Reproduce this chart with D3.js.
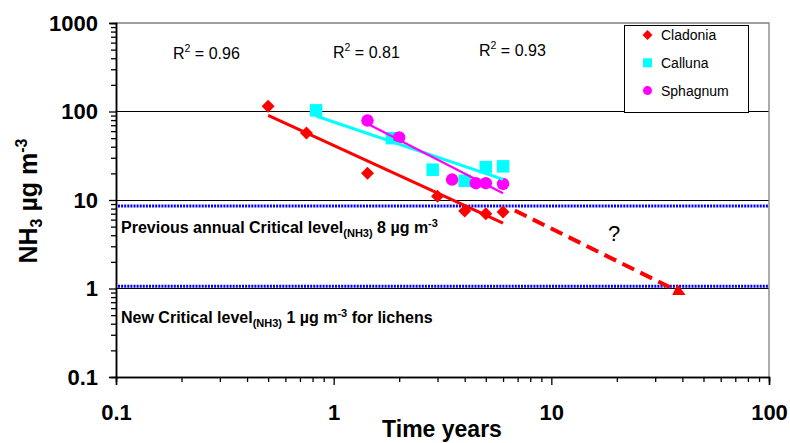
<!DOCTYPE html>
<html><head><meta charset="utf-8">
<script src="https://cdn.jsdelivr.net/npm/d3@7"></script>
<style>
html,body{margin:0;padding:0;background:#fff;}
svg{display:block;font-family:Arial,"Liberation Sans",sans-serif;}
</style></head>
<body>
<svg id="chart" width="790" height="443"></svg>
<script>
// ---- data ----
const seriesNames = ["Cladonia", "Calluna", "Sphagnum"];
const cladoniaX = [0.5, 0.75, 1.43, 3, 4, 5, 6];
const cladoniaY = [115, 57, 20, 11, 7.5, 7, 7.3];
const callunaX = [0.83, 1.85, 2.85, 4, 5, 6];
const callunaY = [103, 50, 22, 16.5, 23.5, 24];
const sphagnumX = [1.43, 2, 3.5, 4.5, 5, 6];
const sphagnumY = [79, 51, 17, 15.5, 15.5, 15.2];
const r2Labels = ["0.96", "0.81", "0.93"];
const extX = [6.8, 40];      // extrapolated Cladonia trend (dashed arrow)
const extY = [7.6, 0.88];
const criticalLevels = [8.55, 1.06];
const xTicks = [0.1, 1, 10, 100];
const yTicks = [0.1, 1, 10, 100, 1000];

// ---- layout ----
const L = 116, R = 769, T = 23, B = 377;
const svg = d3.select("#chart");
const x = d3.scaleLog().domain([0.1, 100]).range([L, R]);
const y = d3.scaleLog().domain([0.1, 1000]).range([B, T]);
const colors = ["#FF0000", "#00FFFF", "#FF00FF"];
const series = [
  {name: seriesNames[0], xs: cladoniaX, ys: cladoniaY, color: colors[0], shape: "diamond", lw: 3},
  {name: seriesNames[1], xs: callunaX, ys: callunaY, color: colors[1], shape: "square", lw: 3},
  {name: seriesNames[2], xs: sphagnumX, ys: sphagnumY, color: colors[2], shape: "circle", lw: 2.2}
];

// minor tick values
function minors(lo, hi) {
  const out = [];
  for (let d = lo; d < hi; d *= 10) for (let k = 2; k <= 9; k++) out.push(d * k);
  return out;
}

// gridlines
svg.append("g").selectAll("line").data([1, 10, 100]).join("line")
  .attr("x1", L).attr("x2", R).attr("y1", d => y(d)).attr("y2", d => y(d))
  .attr("stroke", "#000").attr("stroke-width", 1).attr("shape-rendering", "crispEdges");
// plot border top/right grey
svg.append("path").attr("d", `M${L},${T}H${R}V${B}`).attr("fill", "none")
  .attr("stroke", "#808080").attr("stroke-width", 1.3);

// critical level dotted lines
svg.append("g").selectAll("line").data(criticalLevels).join("line")
  .attr("x1", L + 2).attr("x2", R).attr("y1", d => y(d)).attr("y2", d => y(d))
  .attr("stroke", "#0000FF").attr("stroke-width", 3).attr("stroke-dasharray", "2,1.1");

// axes
const fmt = d => d3.format("")(d);
const xMinor = svg.append("g").attr("transform", `translate(0,${B})`)
  .call(d3.axisBottom(x).tickValues(minors(0.1, 100)).tickSize(5).tickFormat(""));
const xMajor = svg.append("g").attr("transform", `translate(0,${B})`)
  .call(d3.axisBottom(x).tickValues(xTicks).tickSize(8).tickPadding(19).tickFormat(fmt));
const yMinor = svg.append("g").attr("transform", `translate(${L},0)`)
  .call(d3.axisLeft(y).tickValues(minors(0.1, 1000)).tickSize(5).tickFormat(""));
const yMajor = svg.append("g").attr("transform", `translate(${L},0)`)
  .call(d3.axisLeft(y).tickValues(yTicks).tickSize(7).tickPadding(11).tickFormat(fmt));
[xMinor, xMajor, yMinor, yMajor].forEach(g => {
  g.selectAll("path.domain").attr("stroke", "#000").attr("stroke-width", 1.5);
  g.selectAll(".tick line").attr("stroke", "#000").attr("stroke-width", 1.3);
  g.selectAll("text").attr("font-size", 22).attr("font-weight", "bold")
    .attr("fill", "#000").attr("font-family", "Arial, 'Liberation Sans', sans-serif");
});
xMajor.selectAll("text").attr("dy", "0.71em");

// markers
function markerPath(shape, size) {
  if (shape === "diamond") {
    const h = size / 2;
    return `M0,${-h}L${h},0L0,${h}L${-h},0Z`;
  }
  if (shape === "square") {
    const h = size / 2;
    return `M${-h},${-h}H${h}V${h}H${-h}Z`;
  }
  const r = size / 2;
  return `M${r},0A${r},${r} 0 1,1 ${-r},0A${r},${r} 0 1,1 ${r},0Z`;
}
series.forEach(s => {
  svg.append("g").selectAll("path").data(s.xs.map((v, i) => [v, s.ys[i]])).join("path")
    .attr("transform", d => `translate(${x(d[0])},${y(d[1])})`)
    .attr("d", markerPath(s.shape, s.shape === "diamond" ? 13 : 12.5))
    .attr("fill", s.color);
});

// power trendlines (least squares in log-log space)
series.forEach(s => {
  const lx = s.xs.map(Math.log10), ly = s.ys.map(Math.log10);
  const mx = d3.mean(lx), my = d3.mean(ly);
  const b = d3.sum(lx, (v, i) => (v - mx) * (ly[i] - my)) / d3.sum(lx, v => (v - mx) ** 2);
  const a = my - b * mx;
  const x0 = d3.min(s.xs), x1 = d3.max(s.xs);
  const pts = [x0, x1].map(v => [v, Math.pow(10, a + b * Math.log10(v))]);
  svg.append("path").datum(pts)
    .attr("d", d3.line().x(d => x(d[0])).y(d => y(d[1])))
    .attr("fill", "none").attr("stroke", s.color).attr("stroke-width", s.lw);
});

// dashed extrapolation with arrow head
const defs = svg.append("defs");
defs.append("marker").attr("id", "arrow").attr("viewBox", "0 0 10 10")
  .attr("refX", 7).attr("refY", 5).attr("markerWidth", 3.2).attr("markerHeight", 3)
  .attr("orient", "auto").attr("markerUnits", "strokeWidth")
  .append("path").attr("d", "M0,0L10,5L0,10Z").attr("fill", colors[0]);
svg.append("path").datum(extX.map((v, i) => [v, extY[i]]))
  .attr("d", d3.line().x(d => x(d[0])).y(d => y(d[1])))
  .attr("fill", "none").attr("stroke", colors[0]).attr("stroke-width", 4)
  .attr("stroke-dasharray", "13,7").attr("marker-end", "url(#arrow)");

// question mark
svg.append("text").attr("x", 614).attr("y", 241).attr("text-anchor", "middle")
  .attr("font-size", 22).text("?");

// R² labels
const r2Pos = [[173, 59], [333, 58], [479, 56]];
r2Labels.forEach((t, i) => {
  const tx = svg.append("text").attr("x", r2Pos[i][0]).attr("y", r2Pos[i][1]).attr("font-size", 16);
  tx.append("tspan").text("R");
  tx.append("tspan").attr("font-size", 10.5).attr("dy", -7).text("2");
  tx.append("tspan").attr("dy", 7).text(" = " + t);
});

// critical level annotations
function critText(xp, yp, parts) {
  const t = svg.append("text").attr("x", xp).attr("y", yp).attr("font-size", 16)
    .attr("font-weight", "bold");
  let cur = 0;
  parts.forEach(p => {
    const shift = p.sub ? 4 : p.sup ? -6 : 0;
    t.append("tspan").attr("dy", shift - cur).attr("font-size", p.sub || p.sup ? 11 : 16).text(p.t);
    cur = shift;
  });
}
critText(121, 233, [
  {t: "Previous annual Critical level"}, {t: "(NH3)", sub: true}, {t: " 8 µg m"}, {t: "-3", sup: true}
]);
critText(121, 323, [
  {t: "New Critical level"}, {t: "(NH3)", sub: true}, {t: " 1 µg m"}, {t: "-3", sup: true}, {t: " for lichens"}
]);

// axis titles
svg.append("text").attr("x", 442).attr("y", 437).attr("text-anchor", "middle")
  .attr("font-size", 23).attr("font-weight", "bold").text("Time years");
const yt = svg.append("text").attr("transform", "translate(37,201) rotate(-90)")
  .attr("text-anchor", "middle").attr("font-size", 25).attr("font-weight", "bold");
yt.append("tspan").text("NH");
yt.append("tspan").attr("font-size", 16).attr("dy", 5).text("3");
yt.append("tspan").attr("dy", -5).text(" µg m");
yt.append("tspan").attr("font-size", 16).attr("dy", -10).text("-3");

// legend
const lg = svg.append("g");
lg.append("rect").attr("x", 624.5).attr("y", 25.5).attr("width", 124).attr("height", 87)
  .attr("fill", "#fff").attr("stroke", "#000").attr("stroke-width", 1);
series.forEach((s, i) => {
  const cy = 35 + i * 27.8;
  lg.append("path").attr("transform", `translate(647.5,${cy})`)
    .attr("d", markerPath(s.shape, s.shape === "diamond" ? 10 : 9)).attr("fill", s.color);
  lg.append("text").attr("x", 661).attr("y", cy + 5).attr("font-size", 14).text(s.name);
});
</script>
</body></html>
